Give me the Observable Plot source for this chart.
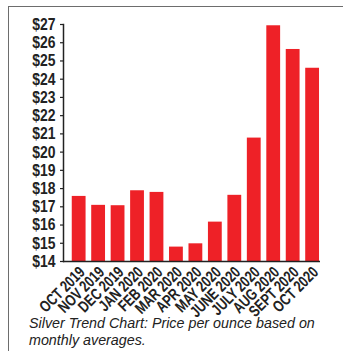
<!DOCTYPE html>
<html><head><meta charset="utf-8">
<script src="https://cdn.jsdelivr.net/npm/d3@7"></script>
<script src="https://cdn.jsdelivr.net/npm/@observablehq/plot@0.6"></script>
<style>
html,body{margin:0;padding:0;background:#fff;}
#wrap{position:relative;width:343px;height:351px;overflow:hidden;}
#frame{position:absolute;left:8px;top:6px;width:340px;height:360px;border-left:1.5px solid #6d6d6d;border-top:1.5px solid #6d6d6d;}
#chart{position:absolute;left:0;top:0;}
#cap{position:absolute;left:29px;top:315px;font-family:"Liberation Sans",Arial,sans-serif;font-style:italic;font-size:14.3px;line-height:17px;color:#222;white-space:nowrap;}
</style></head>
<body><div id="wrap"><div id="frame"></div><div id="chart"></div>
<div id="cap">Silver Trend Chart: Price per ounce based on<br>monthly averages.</div></div>
<script>
const months = ["OCT 2019","NOV 2019","DEC 2019","JAN 2020","FEB 2020","MAR 2020","APR 2020","MAY 2020","JUNE 2020","JULY 2020","AUG 2020","SEPT 2020","OCT 2020"];
const prices = [17.57,17.08,17.06,17.88,17.79,14.79,14.97,16.16,17.63,20.77,26.93,25.63,24.6];
const yTicks = [14,15,16,17,18,19,20,21,22,23,24,25,26,27];
const data = months.map((m,i)=>({month:m, price:prices[i]}));
const font = '"Liberation Sans",Arial,sans-serif';
const chart = Plot.plot({
  width:343, height:351,
  marginLeft:63, marginRight:23, marginTop:24, marginBottom:90,
  style:{fontFamily:font, color:"#222", background:"transparent"},
  x:{domain:months, padding:0.29, paddingOuter:0.25, align:0.9, round:false, label:null},
  y:{domain:[14,27], label:null},
  marks:[
    Plot.barY(data,{x:"month", y1:14, y2:"price", fill:"#ee2127"}),
    Plot.axisY({ticks:yTicks, tickFormat:d=>"$"+d, tickSize:3, tickPadding:5, fontSize:17, fontWeight:"bold", stroke:"#222", strokeWidth:1.2, label:null}),
    Plot.axisX({tickSize:0, tickRotate:-45, tickPadding:8, fontSize:16, fontWeight:"bold", dx:3, label:null}),
    Plot.frame({anchor:"left", stroke:"#222", strokeWidth:1.5}),
    Plot.ruleY([14],{stroke:"#222", strokeWidth:1.5})
  ]
});
document.getElementById("chart").appendChild(chart);
// condense the bold tick labels horizontally
chart.querySelectorAll('g[aria-label="y-axis tick label"] text').forEach(t=>{
  t.setAttribute("transform", (t.getAttribute("transform") || "") + " scale(0.82,1)");
});
chart.querySelectorAll('g[aria-label="x-axis tick label"] text').forEach(t=>{
  t.setAttribute("transform", (t.getAttribute("transform") || "") + " scale(0.77,1)");
});
</script></body></html>
